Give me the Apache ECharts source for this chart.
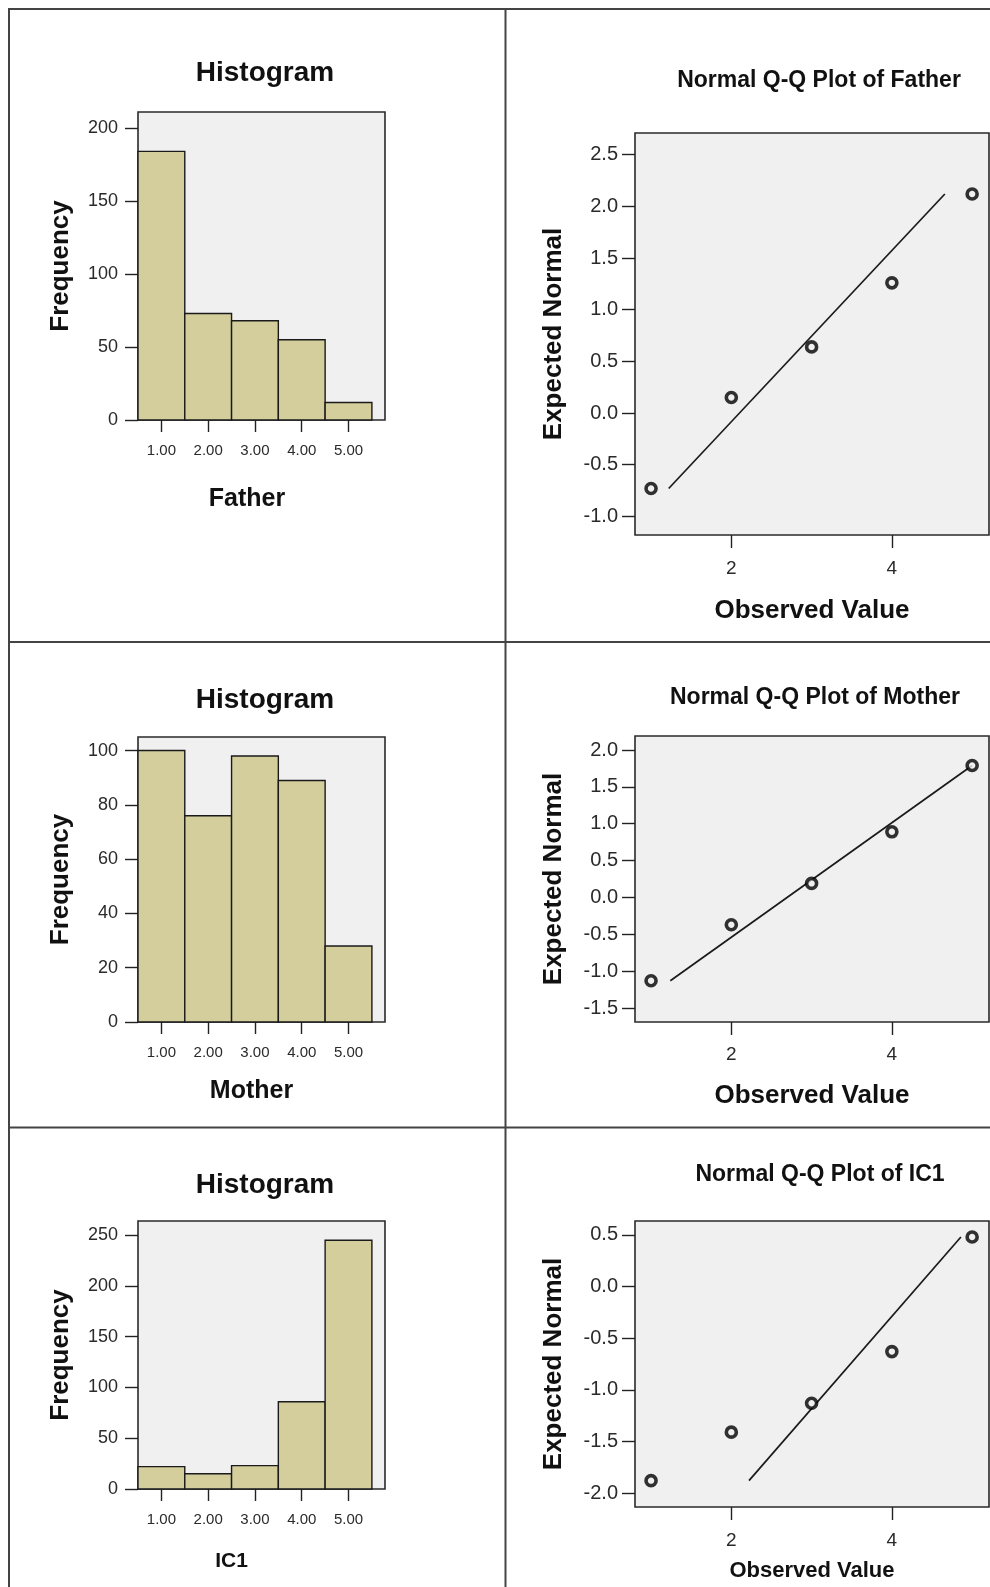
<!DOCTYPE html>
<html>
<head>
<meta charset="utf-8">
<script src="https://cdn.jsdelivr.net/npm/echarts@6.0.0/dist/echarts.min.js"></script>
<style>
html,body{margin:0;padding:0;background:#fff;}
#c{width:990px;height:1587px;}
</style>
</head>
<body>
<div id="c"></div>
<script>
// ---- data ----
const histBins = [1, 2, 3, 4, 5];
const binWidth = 1;
const fatherFreq = [184, 73, 68, 55, 12];
const motherFreq = [100, 76, 98, 89, 28];
const ic1Freq = [22, 15, 23, 86, 245];

const qqObserved = [1, 2, 3, 4, 5];
const fatherExpected = [-0.73, 0.15, 0.64, 1.26, 2.12];
const motherExpected = [-1.13, -0.37, 0.19, 0.89, 1.79];
const ic1Expected = [-1.88, -1.41, -1.13, -0.63, 0.48];

const fatherLine = [[1.22, -0.73], [4.66, 2.12]];
const motherLine = [[1.24, -1.13], [5.0, 1.79]];
const ic1Line = [[2.22, -1.88], [4.86, 0.48]];

// ---- tick labels ----
const fatherFreqTicks = [0, 50, 100, 150, 200];
const motherFreqTicks = [0, 20, 40, 60, 80, 100];
const ic1FreqTicks = [0, 50, 100, 150, 200, 250];
const histXTicks = [1, 2, 3, 4, 5];
const qqXTicks = [2, 4];
const fatherQQTicks = [-1.0, -0.5, 0.0, 0.5, 1.0, 1.5, 2.0, 2.5];
const motherQQTicks = [-1.5, -1.0, -0.5, 0.0, 0.5, 1.0, 1.5, 2.0];
const ic1QQTicks = [-2.0, -1.5, -1.0, -0.5, 0.0, 0.5];

// ---- styles ----
const ARIAL = 'Liberation Sans, Arial, sans-serif';
const LABEL_COLOR = '#2a2a2a';
const BAR_FILL = '#d3ce9c';
const PLOT_BG = '#f0f0f0';

const chart = echarts.init(document.getElementById('c'), null, {renderer: 'canvas'});

const grids = [
  {left: 138, top: 112, width: 247, height: 308},
  {left: 138, top: 737, width: 247, height: 285},
  {left: 138, top: 1221, width: 247, height: 268},
  {left: 635, top: 133, width: 354, height: 402},
  {left: 635, top: 736, width: 354, height: 286},
  {left: 635, top: 1221, width: 354, height: 286}
].map(g => Object.assign({show: true, backgroundColor: PLOT_BG, borderColor: '#2a2a2a', borderWidth: 1.6, containLabel: false}, g));

function histX(idx, name, nameGap, labelMargin, shift, nameSize) {
  return {
    type: 'value', gridIndex: idx, min: 0.5, max: 5.78,
    name: name, nameLocation: 'middle', nameGap: nameGap,
    nameTextStyle: {fontFamily: ARIAL, fontWeight: 'bold', fontSize: nameSize, color: '#111', padding: [0, shift, 0, 0]},
    axisLine: {show: false, onZero: false},
    splitLine: {show: false},
    axisTick: {show: true, length: 12, lineStyle: {color: '#222', width: 1.4}, customValues: histXTicks},
    axisLabel: {show: true, margin: labelMargin, fontFamily: ARIAL, fontSize: 15, color: LABEL_COLOR,
      customValues: histXTicks, formatter: v => v.toFixed(2)}
  };
}
function histY(idx, max, ticks) {
  return {
    type: 'value', gridIndex: idx, min: 0, max: max,
    name: 'Frequency', nameLocation: 'middle', nameGap: 64, nameRotate: 90,
    nameTextStyle: {fontFamily: ARIAL, fontWeight: 'bold', fontSize: 26, color: '#111'},
    axisLine: {show: false, onZero: false},
    splitLine: {show: false},
    axisTick: {show: true, length: 13, lineStyle: {color: '#222', width: 1.4}, customValues: ticks},
    axisLabel: {show: true, margin: 20, fontFamily: ARIAL, fontSize: 18, color: LABEL_COLOR, customValues: ticks}
  };
}
function qqX(idx, nameGap, labelMargin, nameSize) {
  return {
    type: 'value', gridIndex: idx, min: 0.8, max: 5.21,
    name: 'Observed Value', nameLocation: 'middle', nameGap: nameGap,
    nameTextStyle: {fontFamily: ARIAL, fontWeight: 'bold', fontSize: nameSize, color: '#111'},
    axisLine: {show: false, onZero: false},
    splitLine: {show: false},
    axisTick: {show: true, length: 13, lineStyle: {color: '#222', width: 1.4}, customValues: qqXTicks},
    axisLabel: {show: true, margin: labelMargin, fontFamily: ARIAL, fontSize: 19, color: LABEL_COLOR,
      customValues: qqXTicks, formatter: v => String(v)}
  };
}
function qqY(idx, min, max, ticks) {
  return {
    type: 'value', gridIndex: idx, min: min, max: max,
    name: 'Expected Normal', nameLocation: 'middle', nameGap: 68, nameRotate: 90,
    nameTextStyle: {fontFamily: ARIAL, fontWeight: 'bold', fontSize: 26, color: '#111'},
    axisLine: {show: false, onZero: false},
    splitLine: {show: false},
    axisTick: {show: true, length: 13, lineStyle: {color: '#222', width: 1.4}, customValues: ticks},
    axisLabel: {show: true, margin: 17, fontFamily: ARIAL, fontSize: 20, color: LABEL_COLOR,
      customValues: ticks, formatter: v => v.toFixed(1)}
  };
}

function histSeries(idx, freq) {
  return {
    type: 'custom', xAxisIndex: idx, yAxisIndex: idx,
    data: histBins.map((b, i) => [b, freq[i]]),
    encode: {x: 0, y: 1},
    renderItem: function (params, api) {
      const x = api.value(0), v = api.value(1);
      const p0 = api.coord([x - binWidth / 2, v]);
      const p1 = api.coord([x + binWidth / 2, 0]);
      return {
        type: 'rect',
        shape: {x: p0[0], y: p0[1], width: p1[0] - p0[0], height: p1[1] - p0[1]},
        style: {fill: BAR_FILL, stroke: '#1a1a1a', lineWidth: 1.4}
      };
    }
  };
}
function qqPoints(idx, expected) {
  return {
    type: 'scatter', xAxisIndex: idx, yAxisIndex: idx,
    data: qqObserved.map((o, i) => [o, expected[i]]),
    symbol: 'circle', symbolSize: 10,
    itemStyle: {color: PLOT_BG, borderColor: '#000', borderWidth: 3.6},
    z: 5
  };
}
function qqLine(idx, line) {
  return {
    type: 'line', xAxisIndex: idx, yAxisIndex: idx,
    data: line, symbol: 'none',
    lineStyle: {color: '#1a1a1a', width: 1.7},
    z: 3
  };
}

function titleAt(text, cx, cy, size) {
  return {
    text: text, left: cx, top: cy - size / 2, textAlign: 'center', padding: 0,
    textStyle: {fontFamily: ARIAL, fontWeight: 'bold', fontSize: size, color: '#111', lineHeight: size}
  };
}

const frameColor = '#444';
function hline(y, x1, x2) {
  return {type: 'line', shape: {x1: x1, y1: y, x2: x2, y2: y}, style: {stroke: frameColor, lineWidth: 2}, silent: true};
}
function vline(x, y1, y2) {
  return {type: 'line', shape: {x1: x, y1: y1, x2: x, y2: y2}, style: {stroke: frameColor, lineWidth: 2}, silent: true};
}

const option = {
  animation: false,
  backgroundColor: '#fff',
  title: [
    titleAt('Histogram', 265, 73, 28),
    titleAt('Histogram', 265, 700, 28),
    titleAt('Histogram', 265, 1185, 28),
    titleAt('Normal Q-Q Plot of Father', 819, 81, 23),
    titleAt('Normal Q-Q Plot of Mother', 815, 698, 23),
    titleAt('Normal Q-Q Plot of IC1', 820, 1175, 23)
  ],
  grid: grids,
  xAxis: [
    histX(0, 'Father', 67, 23, 29, 25),
    histX(1, 'Mother', 57, 23, 20, 25),
    histX(2, 'IC1', 62, 23, 60, 21),
    qqX(3, 63, 24, 26),
    qqX(4, 61, 23, 26),
    qqX(5, 53, 24, 22)
  ],
  yAxis: [
    histY(0, 211, fatherFreqTicks),
    histY(1, 105, motherFreqTicks),
    histY(2, 264, ic1FreqTicks),
    qqY(3, -1.18, 2.71, fatherQQTicks),
    qqY(4, -1.69, 2.19, motherQQTicks),
    qqY(5, -2.135, 0.635, ic1QQTicks)
  ],
  series: [
    histSeries(0, fatherFreq),
    histSeries(1, motherFreq),
    histSeries(2, ic1Freq),
    qqLine(3, fatherLine), qqPoints(3, fatherExpected),
    qqLine(4, motherLine), qqPoints(4, motherExpected),
    qqLine(5, ic1Line), qqPoints(5, ic1Expected)
  ],
  graphic: [
    hline(9, 8, 990),
    vline(9, 8, 1587),
    vline(505.5, 9, 1587),
    hline(642, 8, 990),
    hline(1127.5, 8, 990)
  ]
};
chart.setOption(option);
</script>
</body>
</html>
